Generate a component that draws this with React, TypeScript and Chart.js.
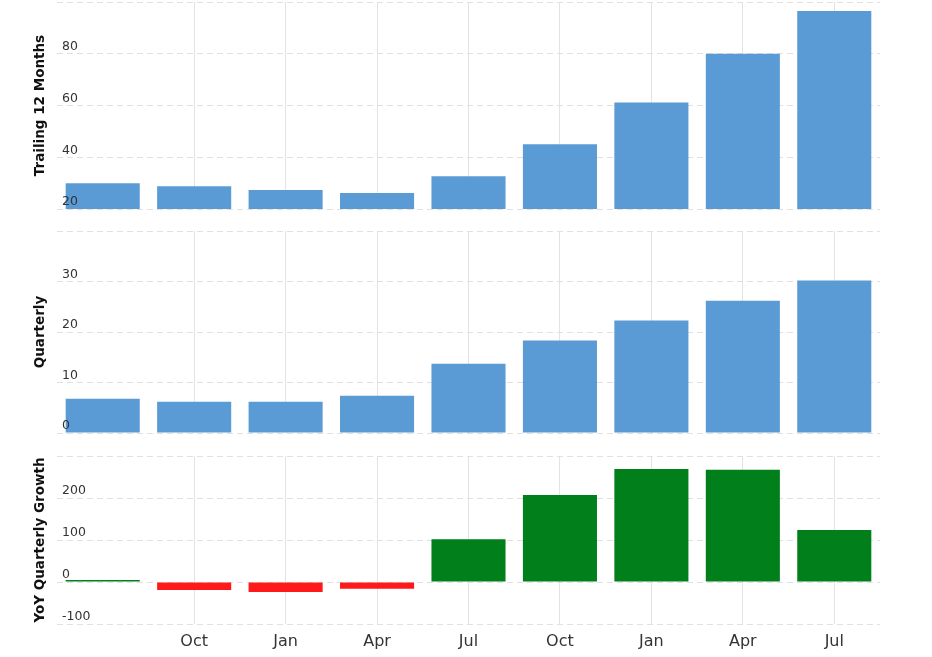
import React, { useEffect, useRef } from "react";
import { Chart, registerables } from "chart.js";

Chart.register(...registerables);

const categories = ["Jul", "Oct", "Jan", "Apr", "Jul", "Oct", "Jan", "Apr", "Jul"];
const trailing12Months = [30.0, 28.8, 27.3, 26.2, 32.7, 45.0, 61.2, 80.0, 96.5];
const quarterly = [6.8, 6.2, 6.2, 7.4, 13.7, 18.3, 22.3, 26.2, 30.2];
const yoyGrowth = [5, -19, -24, -16, 102, 207, 269, 267, 124];

const trailingAxis = [20, 100, 20]; // min, max, step
const quarterlyAxis = [0, 40, 10];
const growthAxis = [-100, 300, 100];

const FONT = "'DejaVu Sans', Verdana, sans-serif";
const BLUE = "#5b9bd5";
const GREEN = "#017f1a";
const RED = "#fe1a1a";

type PanelProps = {
  top: number;
  height: number;
  values: number[];
  colors: string | string[];
  axis: number[];
  title: string;
  showX: boolean;
};

function Panel({ top, height, values, colors, axis, title, showX }: PanelProps) {
  const ref = useRef<HTMLCanvasElement | null>(null);
  useEffect(() => {
    if (!ref.current) return;
    const [min, max, step] = axis;
    const chart = new Chart(ref.current, {
      type: "bar",
      data: {
        labels: categories,
        datasets: [
          {
            data: values,
            backgroundColor: colors as any,
            borderWidth: 0,
            barPercentage: 0.81,
            categoryPercentage: 1,
          },
        ],
      },
      options: {
        animation: false,
        responsive: false,
        devicePixelRatio: 1,
        layout: { padding: { top: 2, bottom: showX ? 0 : 2, left: 0, right: 52 } },
        plugins: { legend: { display: false }, tooltip: { enabled: false } },
        scales: {
          x: {
            type: "category",
            offset: true,
            grid: {
              offset: false,
              drawTicks: false,
              color: (ctx: any) => (ctx.index === 0 ? "rgba(0,0,0,0)" : "#e3e3e3"),
            },
            border: { display: false },
            ticks: {
              display: showX,
              padding: 8,
              autoSkip: false,
              maxRotation: 0,
              color: "#333",
              font: { family: FONT, size: 16 },
              callback: (_v: any, i: number) => (i === 0 ? "" : categories[i]),
            },
            afterFit: (s: any) => {
              s.height = showX ? 33 : 0;
              s.paddingLeft = 0;
              s.paddingRight = 0;
              s.paddingTop = 0;
              s.paddingBottom = 0;
            },
          },
          y: {
            min,
            max,
            ticks: {
              stepSize: step,
              mirror: true,
              padding: 5,
              labelOffset: -7,
              z: 1,
              color: "#333",
              font: { family: FONT, size: 12.5 },
              callback: (v: any) => (v === max ? "" : String(v)),
            },
            grid: { color: "#e0e0e0", drawTicks: false },
            border: { display: false, dash: [6, 4] },
            title: {
              display: true,
              text: title,
              color: "#111",
              font: { family: FONT, size: 13.5, weight: "bold" },
              padding: { top: 32, bottom: 0 },
            },
            afterFit: (s: any) => {
              s.width = 57;
              s.paddingTop = 0;
              s.paddingBottom = 0;
              s.paddingLeft = 0;
              s.paddingRight = 0;
            },
          },
        },
      },
    });
    return () => chart.destroy();
  }, []);
  return (
    <canvas
      ref={ref}
      width={932}
      height={height}
      style={{ position: "absolute", left: 0, top, width: 932, height, display: "block" }}
    />
  );
}

export default function App() {
  const growthColors = yoyGrowth.map((v) => (v >= 0 ? GREEN : RED));
  return (
    <div style={{ position: "absolute", left: 0, top: 0, width: 932, height: 657, background: "#fff" }}>
      <Panel top={0} height={211} values={trailing12Months} colors={BLUE} axis={trailingAxis} title="Trailing 12 Months" showX={false} />
      <Panel top={229} height={206} values={quarterly} colors={BLUE} axis={quarterlyAxis} title="Quarterly" showX={false} />
      <Panel top={454} height={203} values={yoyGrowth} colors={growthColors} axis={growthAxis} title="YoY Quarterly Growth" showX={true} />
    </div>
  );
}
